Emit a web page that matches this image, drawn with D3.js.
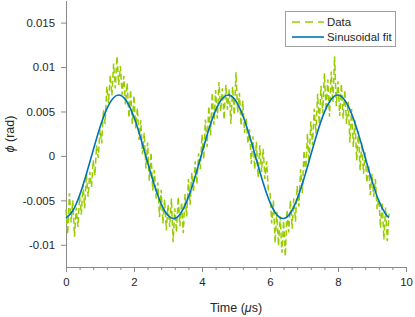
<!DOCTYPE html>
<html>
<head>
<meta charset="utf-8">
<script src="https://cdn.jsdelivr.net/npm/d3@7"></script>
<style>
	body { margin:0; background:#fff; }
	svg { display:block; font-family:"Liberation Sans", Arial, sans-serif; }
	.axis path, .axis line { stroke:#8a8a8a; }
	.axis text { fill:#262626; font-size:11.4px; }
</style>
</head>
<body>
<div id="container"></div>
<script>
// measured phase (rad), sampled every 0.05 us from 0 to 9.5 us
var tStep = 0.05;
var dataPhi = [
	-0.0060,-0.0088,-0.0042,-0.0075,-0.0050,-0.0091,-0.0058,-0.0080,-0.0045,-0.0066,
	-0.0032,-0.0059,-0.0020,-0.0046,-0.0018,-0.0035,-0.0005,-0.0022,0.0012,-0.0002,
	0.0030,0.0014,0.0052,0.0036,0.0078,0.0059,0.0091,0.0068,0.0104,0.0076,
	0.0112,0.0080,0.0101,0.0069,0.0090,0.0058,0.0082,0.0043,0.0074,0.0036,
	0.0068,0.0031,0.0054,0.0018,0.0040,0.0002,0.0026,-0.0014,0.0015,-0.0028,
	0.0004,-0.0039,-0.0016,-0.0048,-0.0030,-0.0069,-0.0038,-0.0076,-0.0049,-0.0084,
	-0.0055,-0.0080,-0.0048,-0.0097,-0.0059,-0.0086,-0.0046,-0.0079,-0.0052,-0.0087,
	-0.0043,-0.0068,-0.0026,-0.0055,-0.0019,-0.0041,-0.0006,-0.0032,0.0003,-0.0015,
	0.0024,-0.0004,0.0041,0.0010,0.0056,0.0023,0.0071,0.0035,0.0074,0.0042,
	0.0083,0.0050,0.0076,0.0041,0.0080,0.0052,0.0075,0.0036,0.0078,0.0046,
	0.0094,0.0049,0.0071,0.0034,0.0062,0.0026,0.0043,0.0014,0.0030,-0.0009,
	0.0022,-0.0015,0.0016,-0.0024,0.0012,-0.0018,0.0008,-0.0026,-0.0006,-0.0038,
	-0.0040,-0.0076,-0.0050,-0.0098,-0.0063,-0.0101,-0.0068,-0.0109,-0.0073,-0.0113,
	-0.0061,-0.0086,-0.0050,-0.0082,-0.0048,-0.0074,-0.0034,-0.0057,-0.0015,-0.0042,
	0.0006,-0.0019,0.0025,-0.0008,0.0039,0.0012,0.0053,0.0025,0.0070,0.0036,
	0.0079,0.0048,0.0093,0.0051,0.0086,0.0044,0.0095,0.0060,0.0112,0.0056,
	0.0084,0.0045,0.0081,0.0042,0.0074,0.0036,0.0061,0.0015,0.0053,0.0010,
	0.0040,-0.0005,0.0028,-0.0016,0.0015,-0.0020,0.0004,-0.0030,-0.0010,-0.0044,
	-0.0020,-0.0046,-0.0026,-0.0060,-0.0048,-0.0081,-0.0052,-0.0094,-0.0058,-0.0096,
	-0.0065
];

var fitT = [0,0.2,0.4,0.6,0.8,1.0,1.2,1.4,1.6,1.8,2.0,2.2,2.4,2.6,2.8,3.0,3.2,3.4,3.6,3.8,
	4.0,4.2,4.4,4.6,4.8,5.0,5.2,5.4,5.6,5.8,6.0,6.2,6.4,6.6,6.8,7.0,7.2,7.4,7.6,7.8,
	8.0,8.2,8.4,8.6,8.8,9.0,9.2,9.4,9.5];
var fitPhi = [-0.00700,-0.00617,-0.00443,-0.00204,0.00064,0.00322,0.00529,0.00655,0.00682,0.00604,
	0.00434,0.00197,-0.00071,-0.00330,-0.00540,-0.00671,-0.00703,-0.00630,-0.00464,-0.00230,
	0.00037,0.00298,0.00512,0.00647,0.00684,0.00616,0.00454,0.00223,-0.00044,-0.00305,
	-0.00523,-0.00663,-0.00704,-0.00642,-0.00484,-0.00255,0.00010,0.00273,0.00493,0.00638,
	0.00685,0.00627,0.00474,0.00248,-0.00017,-0.00281,-0.00504,-0.00653,-0.00692];

var xTicks = [0,2,4,6,8,10];
var yTicks = [-0.01,-0.005,0,0.005,0.01,0.015];
var legendLabels = ["Data","Sinusoidal fit"];

var width = 415, height = 317;
var dataColor = "#99cc00", fitColor = "#0072bd";

var svg = d3.select("#container").append("svg")
	.attr("width", width)
	.attr("height", height);

var x = d3.scaleLinear().domain([0, 10]).range([66, 406]);
var y = d3.scaleLinear().domain([-0.0125, 0.0175]).range([267, 0.4]);

var data = dataPhi.map(function(v, i){ return {t: i*tStep, v: v}; });
var fit = fitT.map(function(t, i){ return {t: t, v: fitPhi[i]}; });

// minor x ticks
svg.append("g")
	.attr("class", "axis")
	.attr("transform", "translate(0,267)")
	.call(d3.axisBottom(x).tickValues(d3.range(0, 10.01, 0.4)).tickSize(3).tickFormat(""))
	.select(".domain").remove();

svg.append("g")
	.attr("class", "axis")
	.attr("transform", "translate(0,267)")
	.call(d3.axisBottom(x).tickValues(xTicks).tickSize(5).tickPadding(6).tickSizeOuter(0).tickFormat(d3.format("d")));

svg.append("g")
	.attr("class", "axis")
	.attr("transform", "translate(66,0)")
	.call(d3.axisLeft(y).tickValues(yTicks).tickSize(5).tickPadding(6).tickSizeOuter(0)
		.tickFormat(function(d){ return d === 0 ? "0" : String(+d.toFixed(3)); }));

var line = d3.line()
	.x(function(d){ return x(d.t); })
	.y(function(d){ return y(d.v); });

svg.append("path")
	.datum(data)
	.attr("d", line)
	.attr("fill", "none")
	.attr("stroke", dataColor)
	.attr("stroke-width", 1.5)
	.attr("stroke-dasharray", "6,3");

svg.append("path")
	.datum(fit)
	.attr("d", line.curve(d3.curveNatural))
	.attr("fill", "none")
	.attr("stroke", fitColor)
	.attr("stroke-width", 1.6);

// axis labels
svg.append("text")
	.attr("x", 236).attr("y", 312)
	.attr("text-anchor", "middle")
	.attr("fill", "#262626")
	.style("font-size", "12.5px")
	.html('Time (<tspan font-style="italic">\u03bc</tspan>s)');

svg.append("text")
	.attr("transform", "translate(14,134) rotate(-90)")
	.attr("text-anchor", "middle")
	.attr("fill", "#262626")
	.style("font-size", "12.5px")
	.html('<tspan font-style="italic">\u03d5</tspan> (rad)');

// legend
var lg = svg.append("g");
lg.append("rect")
	.attr("x", 285.5).attr("y", 11.5)
	.attr("width", 110).attr("height", 35)
	.attr("fill", "#fff")
	.attr("stroke", "#a0a0a0")
	.attr("stroke-width", 1);

legendLabels.forEach(function(lbl, i){
	var ly = 22 + i*15;
	lg.append("line")
		.attr("x1", 292).attr("x2", 324)
		.attr("y1", ly).attr("y2", ly)
		.attr("stroke", i === 0 ? dataColor : fitColor)
		.attr("stroke-width", i === 0 ? 1.5 : 1.6)
		.attr("stroke-dasharray", i === 0 ? "8,5" : null);
	lg.append("text")
		.attr("x", 327).attr("y", ly + 4)
		.attr("fill", "#262626")
		.style("font-size", "11.4px")
		.text(lbl);
});
</script>
</body>
</html>
